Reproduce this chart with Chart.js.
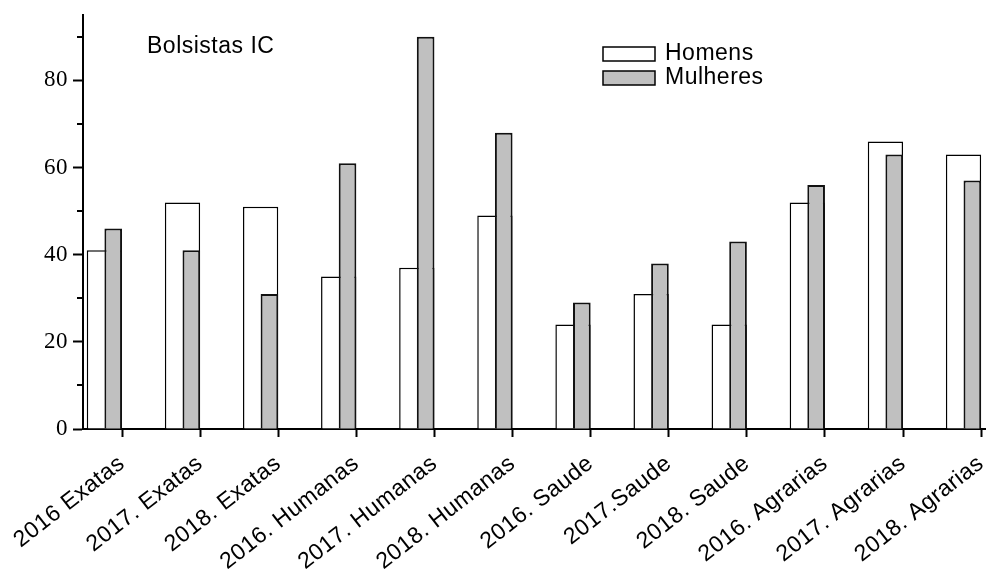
<!DOCTYPE html>
<html>
<head>
<meta charset="utf-8">
<script src="https://cdn.jsdelivr.net/npm/chart.js@4.4.1/dist/chart.umd.min.js"></script>
<style>
  html, body { margin: 0; padding: 0; background: #fff; }
</style>
</head>
<body>
<canvas id="myChart" width="988" height="570"></canvas>
<script>
// values
var categories = ["2016 Exatas", "2017. Exatas", "2018. Exatas", "2016. Humanas", "2017. Humanas", "2018. Humanas",
                  "2016. Saude", "2017.Saude", "2018. Saude", "2016. Agrarias", "2017. Agrarias", "2018. Agrarias"];
var homens   = [41, 52, 51, 35, 37, 49, 24, 31, 24, 52, 66, 63];
var mulheres = [46, 41, 31, 61, 90, 68, 29, 38, 43, 56, 63, 57];
var yTicks = [0, 20, 40, 60, 80];
var yMinorTicks = [10, 30, 50, 70, 90];
var chartTitle = "Bolsistas IC";

var sansFont = '"Liberation Sans", Arial, sans-serif';
var spacing = '0.5px';

function toPoints(values) {//bars sit on a linear x axis, one unit per category
    return values.map(function(v, i){ return {x: i, y: v}; });
}

var extras = {
    id: 'extras',
    beforeLayout: function(chart){ chart.ctx.letterSpacing = spacing; },
    beforeDraw: function(chart){ chart.ctx.letterSpacing = spacing; },
    afterDraw: function(chart){
        var ctx = chart.ctx;
        var yScale = chart.scales.y;
        var left = chart.chartArea.left;
        ctx.save();
        // short minor ticks on the y axis
        ctx.strokeStyle = '#000';
        ctx.lineWidth = 2;
        yMinorTicks.forEach(function(v){
            var py = Math.round(yScale.getPixelForValue(v));
            ctx.beginPath();
            ctx.moveTo(left - 6, py);
            ctx.lineTo(left, py);
            ctx.stroke();
        });
        // title inside the plot
        ctx.fillStyle = '#000';
        ctx.font = '23px ' + sansFont;
        ctx.textAlign = 'left';
        ctx.textBaseline = 'middle';
        ctx.fillText(chartTitle, 147, 47);
        // legend
        var row = 0;
        chart.data.datasets.forEach(function(ds){
            if (!ds.label) return;
            var top = 47 + row * 24;
            ctx.fillStyle = ds.backgroundColor;
            ctx.fillRect(603, top, 52, 14);
            ctx.lineWidth = 1.5;
            ctx.strokeStyle = '#000';
            ctx.strokeRect(603, top, 52, 14);
            ctx.fillStyle = '#000';
            ctx.fillText(ds.label, 665, top + 7);
            row++;
        });
        ctx.restore();
    }
};

var context = document.getElementById('myChart');
var myBarChart = new Chart(context, {
    type: 'bar',
    data: {
        datasets: [
            {
                label: "Homens",
                data: toPoints(homens),
                backgroundColor: "#ffffff",
                borderColor: "#000000",
                borderWidth: 1.5,
                grouped: false,
                categoryPercentage: 0.452,
                barPercentage: 1,
                order: 2
            },
            {//empty slot so the grey bar takes the right half
                data: [],
                categoryPercentage: 0.452,
                barPercentage: 1,
                order: 0
            },
            {
                label: "Mulheres",
                data: toPoints(mulheres),
                backgroundColor: "#c0c0c0",
                borderColor: "#111111",
                borderWidth: 2,
                categoryPercentage: 0.452,
                barPercentage: 1,
                order: 1
            }
        ]
    },
    options: {
        responsive: false,
        animation: false,
        devicePixelRatio: 1,
        layout: { padding: { top: 15, right: 3, bottom: 0, left: 0 } },
        plugins: {
            legend: { display: false },
            title: { display: false },
            tooltip: { enabled: false }
        },
        scales: {
            x: {
                type: 'linear',
                min: -0.274,
                max: 11.275,
                offset: false,
                stacked: false,
                grid: { display: true, offset: false, drawOnChartArea: false, drawTicks: true,
                        tickLength: 8, tickWidth: 2, tickColor: '#000' },
                border: { display: true, color: '#000', width: 2 },
                afterBuildTicks: function(scale){
                    scale.ticks = categories.map(function(c, i){ return {value: i + 0.226}; });
                },
                afterFit: function(scale){
                    scale.height = 141;
                    scale.paddingLeft = 0;
                    scale.paddingRight = 0;
                },
                ticks: {
                    autoSkip: false,
                    maxRotation: 38,
                    minRotation: 38,
                    padding: 13,
                    color: '#000',
                    font: { family: sansFont, size: 23 },
                    callback: function(value, index){ return categories[index]; }
                }
            },
            y: {
                type: 'linear',
                min: 0,
                max: 95,
                stacked: false,
                grid: { display: true, drawOnChartArea: false, drawTicks: true,
                        tickLength: 10, tickWidth: 2, tickColor: '#000' },
                border: { display: true, color: '#000', width: 2 },
                afterBuildTicks: function(scale){
                    scale.ticks = yTicks.map(function(v){ return {value: v}; });
                },
                afterFit: function(scale){
                    scale.width = 83;
                    scale.paddingTop = 0;
                    scale.paddingBottom = 0;
                },
                ticks: {
                    padding: 5,
                    color: '#000',
                    font: { family: '"Liberation Serif", "Times New Roman", serif', size: 23 }
                }
            }
        }
    },
    plugins: [extras]
});
</script>
</body>
</html>
